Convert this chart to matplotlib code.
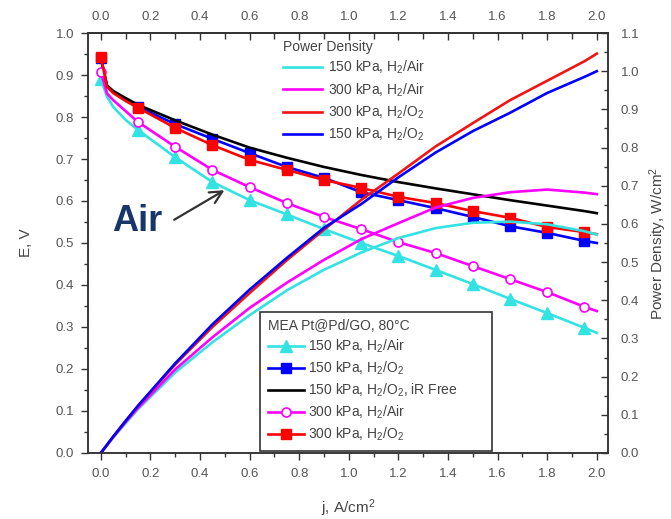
import matplotlib
matplotlib.use("Agg")
import matplotlib.pyplot as plt
from matplotlib.ticker import MultipleLocator, FormatStrFormatter
from matplotlib.lines import Line2D

plt.rcParams["font.family"] = ["Liberation Sans", "DejaVu Sans"]
plt.rcParams["mathtext.fontset"] = "custom"
plt.rcParams["mathtext.rm"] = "Liberation Sans"
plt.rcParams["mathtext.it"] = "Liberation Sans:italic"

# ---- polarization data (cell voltage E, V vs current density j, A/cm2) ----
j_pol = [0.0, 0.025, 0.05, 0.1, 0.15, 0.3, 0.45, 0.6, 0.75, 0.9, 1.05,
         1.2, 1.35, 1.5, 1.65, 1.8, 1.95, 2.0]
marker_idx = [0, 4, 5, 6, 7, 8, 9, 10, 11, 12, 13, 14, 15, 16]

e_150_air = [0.890, 0.848, 0.824, 0.793, 0.769, 0.704, 0.645, 0.602, 0.568,
             0.533, 0.500, 0.469, 0.436, 0.402, 0.367, 0.333, 0.298, 0.286]
e_150_o2 = [0.940, 0.872, 0.859, 0.841, 0.824, 0.783, 0.748, 0.714, 0.681,
            0.655, 0.621, 0.602, 0.583, 0.562, 0.540, 0.524, 0.505, 0.500]
e_150_o2_irfree = [0.940, 0.875, 0.862, 0.845, 0.829, 0.792, 0.758, 0.727,
                   0.703, 0.681, 0.662, 0.645, 0.630, 0.616, 0.602, 0.589,
                   0.576, 0.571]
e_300_air = [0.907, 0.856, 0.840, 0.814, 0.788, 0.729, 0.674, 0.633, 0.595,
             0.562, 0.533, 0.502, 0.476, 0.445, 0.414, 0.383, 0.348, 0.338]
e_300_o2 = [0.943, 0.872, 0.857, 0.838, 0.822, 0.774, 0.733, 0.698, 0.674,
            0.650, 0.631, 0.610, 0.595, 0.576, 0.560, 0.538, 0.526, 0.521]

# ---- power density data (W/cm2) ----
j_pow = [0.0, 0.05, 0.1, 0.15, 0.3, 0.45, 0.6, 0.75, 0.9, 1.05, 1.2, 1.35,
         1.5, 1.65, 1.8, 1.95, 2.0]
p_150_air = [0.0, 0.041, 0.078, 0.115, 0.211, 0.290, 0.361, 0.426, 0.480,
             0.525, 0.563, 0.589, 0.603, 0.606, 0.599, 0.581, 0.572]
p_300_air = [0.0, 0.042, 0.081, 0.118, 0.219, 0.303, 0.380, 0.446, 0.506,
             0.560, 0.602, 0.643, 0.668, 0.683, 0.690, 0.682, 0.678]
p_300_o2 = [0.0, 0.043, 0.084, 0.123, 0.232, 0.330, 0.419, 0.505, 0.585,
            0.663, 0.732, 0.803, 0.864, 0.924, 0.975, 1.026, 1.046]
p_150_o2 = [0.0, 0.043, 0.084, 0.124, 0.235, 0.337, 0.428, 0.511, 0.590,
            0.652, 0.722, 0.787, 0.843, 0.891, 0.943, 0.985, 1.000]

x_ticks = [0.0, 0.2, 0.4, 0.6, 0.8, 1.0, 1.2, 1.4, 1.6, 1.8, 2.0]

CYAN = "#33e2e2"
MAGENTA = "#ff00ff"
RED = "#ff0000"
BLUE = "#0000ff"
TXT = "#444444"
TICKTXT = "#555555"
SPINE = "#333333"

fig = plt.figure(figsize=(6.71, 5.19), dpi=100)
ax = fig.add_axes([0.1311, 0.1272, 0.775, 0.8092])
ax2 = ax.twinx()

lw = 1.9
# polarization curves
ax.plot(j_pol, e_150_air, color=CYAN, lw=lw, marker="^", ms=8,
        markevery=marker_idx, mec=CYAN, mfc=CYAN)
ax.plot(j_pol, e_150_o2, color=BLUE, lw=lw, marker="s", ms=6.5,
        markevery=marker_idx, mec=BLUE, mfc=BLUE)
ax.plot(j_pol, e_150_o2_irfree, color="black", lw=lw)
ax.plot(j_pol, e_300_air, color=MAGENTA, lw=lw, marker="o", ms=6.5,
        markevery=marker_idx, mec=MAGENTA, mfc="white", mew=1.2)
ax.plot(j_pol, e_300_o2, color=RED, lw=lw, marker="s", ms=6.5,
        markevery=marker_idx, mec=RED, mfc=RED)

# power density curves
h1, = ax2.plot(j_pow, p_150_air, color=CYAN, lw=lw)
h2, = ax2.plot(j_pow, p_300_air, color=MAGENTA, lw=lw)
h3, = ax2.plot(j_pow, p_300_o2, color="#f01515", lw=lw)
h4, = ax2.plot(j_pow, p_150_o2, color=BLUE, lw=lw)

ax.set_xlim(-0.052, 2.045)
ax.set_ylim(0.0, 1.0)
ax2.set_ylim(0.0, 1.1)

# ticks
ax.xaxis.set_major_locator(MultipleLocator(0.2))
ax.xaxis.set_minor_locator(MultipleLocator(0.1))
ax.yaxis.set_major_locator(MultipleLocator(0.1))
ax.yaxis.set_minor_locator(MultipleLocator(0.05))
ax2.yaxis.set_major_locator(MultipleLocator(0.1))
ax2.yaxis.set_minor_locator(MultipleLocator(0.05))
for a in (ax.xaxis, ax.yaxis, ax2.yaxis):
    a.set_major_formatter(FormatStrFormatter("%.1f"))
ax.set_xticks(x_ticks)

ax.tick_params(axis="both", which="major", direction="out", length=5,
               width=1, color=SPINE, labelsize=9.5, labelcolor=TICKTXT)
ax.tick_params(axis="y", which="major", pad=5)
ax.tick_params(axis="x", which="major", pad=6)
ax.tick_params(axis="both", which="minor", direction="out", length=3,
               width=1, color=SPINE)
ax2.tick_params(axis="y", which="major", direction="in", length=5, width=1,
                color=SPINE, labelsize=9.5, labelcolor=TICKTXT, pad=9)
ax2.tick_params(axis="y", which="minor", direction="in", length=3, width=1,
                color=SPINE)

top = ax.secondary_xaxis("top")
top.set_xticks(x_ticks)
top.xaxis.set_minor_locator(MultipleLocator(0.1))
top.xaxis.set_major_formatter(FormatStrFormatter("%.1f"))
top.tick_params(axis="x", which="major", direction="in", length=5, width=1,
                color=SPINE, labelsize=9.5, labelcolor=TICKTXT, pad=7)
top.tick_params(axis="x", which="minor", direction="in", length=4, width=1,
                color=SPINE)

for a in (ax, ax2):
    for s in a.spines.values():
        s.set_color(SPINE)
        s.set_linewidth(1.1)
top.spines["top"].set_color(SPINE)
top.spines["top"].set_linewidth(1.1)

ax.set_xlabel("j, A/cm$^2$", fontsize=11, color=TXT, labelpad=12)
ax.set_ylabel("E, V", fontsize=11, color=TXT, labelpad=16)
ax2.set_ylabel("Power Density, W/cm$^2$", fontsize=11, color=TXT,
               labelpad=6)

# power density legend
leg1 = ax2.legend([h1, h2, h3, h4],
                  ["150 kPa, H$_2$/Air", "300 kPa, H$_2$/Air",
                   "300 kPa, H$_2$/O$_2$", "150 kPa, H$_2$/O$_2$"],
                  title="Power Density", loc="upper left",
                  bbox_to_anchor=(0.37, 0.99), frameon=False,
                  fontsize=10, title_fontsize=10, handlelength=2.8,
                  handletextpad=0.4, labelspacing=0.35, borderpad=0.2,
                  borderaxespad=0.0, alignment="left")
for t in leg1.get_texts():
    t.set_color(TXT)
leg1.get_title().set_color(TXT)
ax2.add_artist(leg1)

# polarization legend
pol_handles = [
    Line2D([], [], color=CYAN, lw=lw, marker="^", ms=8),
    Line2D([], [], color=BLUE, lw=lw, marker="s", ms=6.5),
    Line2D([], [], color="black", lw=lw),
    Line2D([], [], color=MAGENTA, lw=lw, marker="o", ms=6.5, mfc="white",
           mew=1.2),
    Line2D([], [], color=RED, lw=lw, marker="s", ms=6.5),
]
pol_labels = ["150 kPa, H$_2$/Air", "150 kPa, H$_2$/O$_2$",
              "150 kPa, H$_2$/O$_2$, iR Free", "300 kPa, H$_2$/Air",
              "300 kPa, H$_2$/O$_2$"]
leg2 = ax2.legend(pol_handles, pol_labels,
                  title="MEA Pt@Pd/GO, 80\u00b0C", loc="lower left",
                  bbox_to_anchor=(0.331, 0.005, 0.446, 0.33), mode="expand",
                  fontsize=10, title_fontsize=10, handlelength=2.6,
                  handletextpad=0.3, labelspacing=0.33, borderpad=0.55,
                  borderaxespad=0.0, fancybox=False, framealpha=1,
                  edgecolor=SPINE, alignment="left")
leg2.get_frame().set_linewidth(1.2)
for t in leg2.get_texts():
    t.set_color(TXT)
leg2.get_title().set_color(TXT)

# "Air" callout
ax.text(0.145, 0.55, "Air", fontsize=26, fontweight="bold", color="#17366b",
        ha="center", va="center")
ax.annotate("", xy=(0.508, 0.629), xytext=(0.286, 0.552),
            arrowprops=dict(arrowstyle="->", color="#333333", lw=1.6,
                            mutation_scale=22))

fig.savefig("out.png", dpi=100)
